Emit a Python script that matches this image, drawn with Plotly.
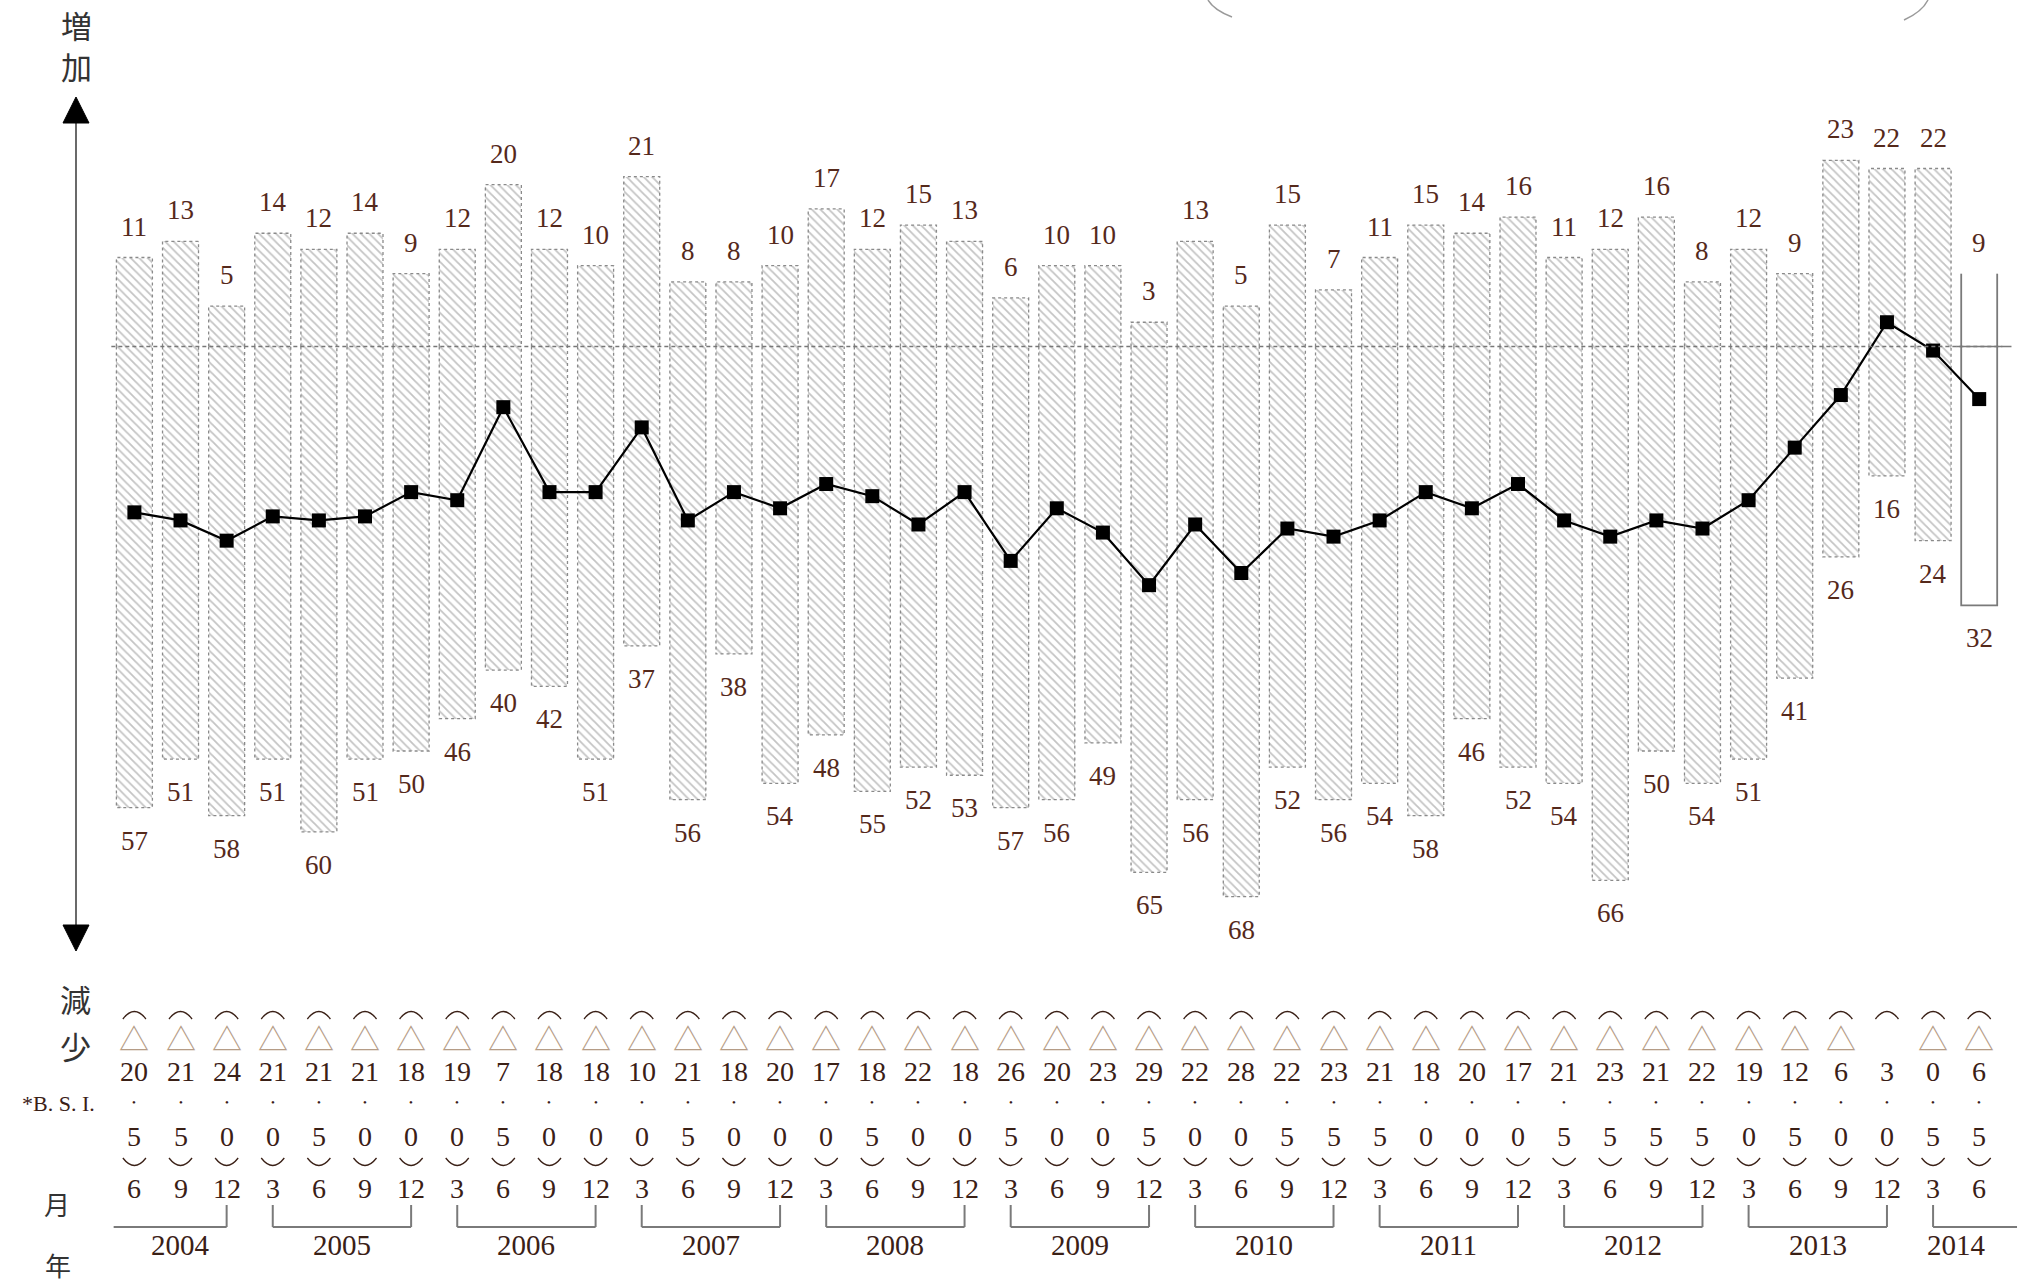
import plotly.graph_objects as go

# ---------------- data ----------------
months = [6, 9, 12,
          3, 6, 9, 12, 3, 6, 9, 12, 3, 6, 9, 12, 3, 6, 9, 12, 3, 6, 9, 12,
          3, 6, 9, 12, 3, 6, 9, 12, 3, 6, 9, 12, 3, 6, 9, 12, 3, 6]
years = [2004] * 3 + [2005] * 4 + [2006] * 4 + [2007] * 4 + [2008] * 4 + [2009] * 4 \
        + [2010] * 4 + [2011] * 4 + [2012] * 4 + [2013] * 4 + [2014] * 2
increase = [11, 13, 5, 14, 12, 14, 9, 12, 20, 12, 10, 21, 8, 8, 10, 17, 12, 15, 13, 6,
            10, 10, 3, 13, 5, 15, 7, 11, 15, 14, 16, 11, 12, 16, 8, 12, 9, 23, 22, 22, 9]
decrease = [57, 51, 58, 51, 60, 51, 50, 46, 40, 42, 51, 37, 56, 38, 54, 48, 55, 52, 53, 57,
            56, 49, 65, 56, 68, 52, 56, 54, 58, 46, 52, 54, 66, 50, 54, 51, 41, 26, 16, 24, 32]
bsi = [-20.5, -21.5, -24.0, -21.0, -21.5, -21.0, -18.0, -19.0, -7.5, -18.0, -18.0, -10.0,
       -21.5, -18.0, -20.0, -17.0, -18.5, -22.0, -18.0, -26.5, -20.0, -23.0, -29.5, -22.0,
       -28.0, -22.5, -23.5, -21.5, -18.0, -20.0, -17.0, -21.5, -23.5, -21.5, -22.5, -19.0,
       -12.5, -6.0, 3.0, -0.5, -6.5]
forecast = [False] * 40 + [True]

# ---------------- layout constants ----------------
W, H = 2027, 1282
X0, DX = 134.4, 46.12      # pixel of first column, column spacing
Y0, DY = 346.5, 8.09       # pixel of zero line, pixels per unit
BW = 0.78
SERIF = "Liberation Serif, DejaVu Serif, serif"
CJK = "Noto Sans CJK JP, sans-serif"
LABEL_C = "#55291b"
TEXT_C = "#3a2016"
TRI_C = "#b59c86"

n = len(increase)
idx = list(range(n))
xr = [-X0 / DX, (W - X0) / DX]
yr = [-(H - Y0) / DY, Y0 / DY]


def py(px):
    return 1 - px / H


def px_x(px):
    return px / W


fig = go.Figure()

shape_list = ["" if f else "\\" for f in forecast]
for vals in (increase, [-d for d in decrease]):
    fig.add_trace(go.Bar(
        x=idx, y=vals, width=BW,
        marker=dict(color="white",
                    pattern=dict(shape=shape_list, fgcolor="#8a8a8a", bgcolor="white",
                                 size=6, solidity=0.3),
                    line=dict(width=0)),
        hoverinfo="skip", showlegend=False))

# dotted outlines of the hatched bars, solid open outline for the forecast bar
ox, oy, fx, fy = [], [], [], []
for i in idx:
    l, r = i - BW / 2, i + BW / 2
    if forecast[i]:
        fx += [l, l, None, r, r, None, l, l, r, r, None]
        fy += [0, increase[i], None, 0, increase[i], None, 0, -decrease[i], -decrease[i], 0, None]
        continue
    for v in (increase[i], -decrease[i]):
        ox += [l, l, r, r, None]
        oy += [0, v, v, 0, None]
fig.add_trace(go.Scatter(x=ox, y=oy, mode="lines",
                         line=dict(color="#8a8a8a", width=1.3, dash="dot"),
                         hoverinfo="skip", showlegend=False))
fig.add_trace(go.Scatter(x=fx, y=fy, mode="lines",
                         line=dict(color="#7a7a7a", width=1.8),
                         hoverinfo="skip", showlegend=False))

# BSI line
fig.add_trace(go.Scatter(x=idx, y=bsi, mode="lines+markers",
                         line=dict(color="black", width=2.2),
                         marker=dict(symbol="square", size=14, color="black"),
                         showlegend=False))

ann = []
for i in idx:
    ann.append(dict(x=i, y=increase[i], xref="x", yref="y", yshift=31, text=str(increase[i]),
                    showarrow=False, font=dict(family=SERIF, size=27, color=LABEL_C)))
    ann.append(dict(x=i, y=-decrease[i], xref="x", yref="y", yshift=-33, text=str(decrease[i]),
                    showarrow=False, font=dict(family=SERIF, size=27, color=LABEL_C)))


def t(x, ypx, text, size, color=TEXT_C, family=SERIF, xref="x"):
    ann.append(dict(x=x, y=py(ypx), xref=xref, yref="paper", text=text, showarrow=False,
                    xanchor="center", yanchor="middle",
                    font=dict(family=family, size=size, color=color)))


shapes = []
for i in idx:
    v = bsi[i]
    a = abs(v)
    if v < 0:
        t(i, 1037, "△", 30, TRI_C, CJK)
    t(i, 1071, str(int(a)), 28)
    t(i, 1102, "•", 11)
    t(i, 1136, str(int(round(a * 10)) % 10), 28)
    t(i, 1188, str(months[i]), 28)
    # vertical parentheses as arcs
    shapes.append(dict(type="path", xref="x", yref="paper",
                       path=f"M {i-0.25},{py(1019)} Q {i},{py(1004)} {i+0.25},{py(1019)}",
                       line=dict(color=TEXT_C, width=1.3)))
    shapes.append(dict(type="path", xref="x", yref="paper",
                       path=f"M {i-0.25},{py(1158)} Q {i},{py(1173)} {i+0.25},{py(1158)}",
                       line=dict(color=TEXT_C, width=1.3)))

# year brackets
for yv in sorted(set(years)):
    cols = [i for i in idx if years[i] == yv]
    first, last = cols[0], cols[-1]
    left = first if months[first] == 3 else first - 0.45
    right = last if months[last] == 12 else last + 0.82
    shapes.append(dict(type="line", xref="x", yref="paper", x0=left, x1=right,
                       y0=py(1227), y1=py(1227), line=dict(color="#7a7a7a", width=2)))
    if months[first] == 3:
        shapes.append(dict(type="line", xref="x", yref="paper", x0=first, x1=first,
                           y0=py(1205), y1=py(1227), line=dict(color="#7a7a7a", width=2)))
    if months[last] == 12:
        shapes.append(dict(type="line", xref="x", yref="paper", x0=last, x1=last,
                           y0=py(1205), y1=py(1227), line=dict(color="#7a7a7a", width=2)))
    t((first + last) / 2, 1245, str(yv), 29)

# zero line
shapes.append(dict(type="line", xref="x", yref="y", x0=-0.5, x1=n - 0.5, y0=0, y1=0,
                   line=dict(color="#777777", width=1.4, dash="4px,3px"), layer="above"))
last_i = [i for i in idx if forecast[i]]
for i in last_i:
    shapes.append(dict(type="line", xref="x", yref="y", x0=i - 0.5, x1=i + 0.7, y0=0, y1=0,
                       line=dict(color="#7a7a7a", width=1.6), layer="above"))

# left vertical axis with arrows
shapes.append(dict(type="line", xref="paper", yref="paper", x0=px_x(76), x1=px_x(76),
                   y0=py(118), y1=py(930), line=dict(color="#444444", width=1.6)))
shapes.append(dict(type="path", xref="paper", yref="paper",
                   path=f"M {px_x(63)},{py(123)} L {px_x(89)},{py(123)} L {px_x(76)},{py(97)} Z",
                   fillcolor="black", line=dict(color="black", width=1)))
shapes.append(dict(type="path", xref="paper", yref="paper",
                   path=f"M {px_x(63)},{py(925)} L {px_x(89)},{py(925)} L {px_x(76)},{py(951)} Z",
                   fillcolor="black", line=dict(color="black", width=1)))

# tails of the (cut-off) title brackets at the top edge
shapes.append(dict(type="path", xref="paper", yref="paper",
                   path=f"M {px_x(1208)},{py(0)} Q {px_x(1214)},{py(10)} {px_x(1232)},{py(17)}",
                   line=dict(color="#9a9a9a", width=1.5)))
shapes.append(dict(type="path", xref="paper", yref="paper",
                   path=f"M {px_x(1928)},{py(0)} Q {px_x(1922)},{py(12)} {px_x(1904)},{py(20)}",
                   line=dict(color="#9a9a9a", width=1.5)))

t(px_x(76), 24, "増", 31, "#333333", CJK, "paper")
t(px_x(76), 66, "加", 31, "#333333", CJK, "paper")
t(px_x(75), 998, "減", 31, "#333333", CJK, "paper")
t(px_x(75), 1045, "少", 31, "#333333", CJK, "paper")
t(px_x(58), 1103, "*B. S. I.", 22, TEXT_C, SERIF, "paper")
t(px_x(57), 1203, "月", 26, "#333333", CJK, "paper")
t(px_x(58), 1264, "年", 26, "#333333", CJK, "paper")

fig.update_layout(
    width=W, height=H, margin=dict(l=0, r=0, t=0, b=0),
    paper_bgcolor="white", plot_bgcolor="white",
    barmode="overlay", bargap=0,
    xaxis=dict(range=xr, visible=False, fixedrange=True),
    yaxis=dict(range=yr, visible=False, fixedrange=True),
    annotations=ann, shapes=shapes, showlegend=False,
)

fig.write_html("out.html", config={"displayModeBar": False},
               post_script="document.body.style.margin='0px';")
